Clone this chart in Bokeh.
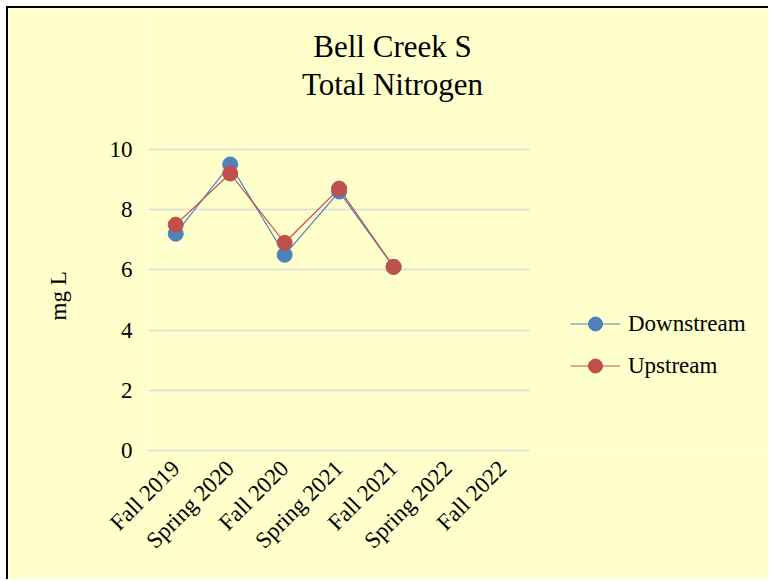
from bokeh.plotting import figure
from bokeh.models import Range1d, Legend, LegendItem, Label, FixedTicker, Title
from bokeh.embed import file_html
from bokeh.resources import INLINE
import math

categories = ["Fall 2019", "Spring 2020", "Fall 2020", "Spring 2021", "Fall 2021", "Spring 2022", "Fall 2022"]
downstream = [7.2, 9.5, 6.5, 8.6, 6.1, float("nan"), float("nan")]
upstream = [7.5, 9.2, 6.9, 8.7, 6.1, float("nan"), float("nan")]
y_ticks = [0, 2, 4, 6, 8, 10]
title_lines = ["Bell Creek S", "Total Nitrogen"]
y_label = "mg L"

xs = list(range(len(categories)))

BG = "#FFFFCC"
BLUE = "#4F81BD"
RED = "#C0504D"
FONT = "Liberation Serif"

p = figure(width=762, height=573, x_range=Range1d(-0.5, 10.92), y_range=Range1d(0, 14.68),
           output_backend="svg", toolbar_location=None, title=None,
           min_border_left=140, min_border_right=0, min_border_top=0, min_border_bottom=131)
p.background_fill_color = BG
p.border_fill_color = BG
p.outline_line_color = None
p.styles = {"margin-left": "6px", "margin-top": "6px",
            "border-left": "2px solid black", "border-top": "2px solid black"}

p.xgrid.grid_line_color = None
p.ygrid.grid_line_color = "#D9D9D9"
p.ygrid.grid_line_width = 1.5
p.ygrid.cross_bounds = (-0.5, len(categories) - 0.5)
p.yaxis.ticker = FixedTicker(ticks=y_ticks)
p.yaxis.bounds = (0, 10)

p.yaxis.axis_line_color = None
p.yaxis.major_tick_line_color = None
p.yaxis.minor_tick_line_color = None
p.yaxis.major_label_text_font = FONT
p.yaxis.major_label_text_font_size = "23px"
p.yaxis.major_label_text_color = "black"
p.yaxis.major_label_standoff = 10

# y-axis title, placed beside the axis and aligned with the 0-10 span
p.add_layout(Title(text=y_label, align="left", offset=130, standoff=71,
                   text_font=FONT, text_font_size="23px", text_font_style="normal",
                   text_color="black"), "left")

p.xaxis.ticker = FixedTicker(ticks=xs)
p.xaxis.major_label_overrides = {i: c for i, c in zip(xs, categories)}
p.xaxis.bounds = (-0.5, len(categories) - 0.5)
p.xaxis.axis_line_color = "#D9D9D9"
p.xaxis.axis_line_width = 1.5
p.xaxis.major_tick_line_color = None
p.xaxis.minor_tick_line_color = None
p.xaxis.major_label_text_font = FONT
p.xaxis.major_label_text_font_size = "23px"
p.xaxis.major_label_text_color = "black"
p.xaxis.major_label_orientation = math.pi / 4
p.xaxis.major_label_standoff = 8

l1 = p.line(xs, downstream, line_color=BLUE, line_width=1.2)
s1 = p.scatter(xs, downstream, marker="circle", size=15, fill_color=BLUE, line_color=BLUE)
l2 = p.line(xs, upstream, line_color=RED, line_width=1.2)
s2 = p.scatter(xs, upstream, marker="circle", size=15, fill_color=RED, line_color=RED)

for txt, yy in zip(title_lines, [404, 366]):
    p.add_layout(Label(x=244, y=yy, x_units="screen", y_units="screen", text=txt,
                       text_font=FONT, text_font_size="31px", text_color="black",
                       text_align="center", text_baseline="middle"))

legend = Legend(items=[LegendItem(label="Downstream", renderers=[l1, s1]),
                       LegendItem(label="Upstream", renderers=[l2, s2])],
                location=(422, 67), orientation="vertical",
                label_text_font=FONT, label_text_font_size="23px", label_text_color="black",
                glyph_width=50, glyph_height=35, label_height=20, label_standoff=8, spacing=7,
                padding=0, margin=0, border_line_color=None, background_fill_alpha=0)
p.add_layout(legend, "center")

open("out.html", "w").write(file_html(p, INLINE))
